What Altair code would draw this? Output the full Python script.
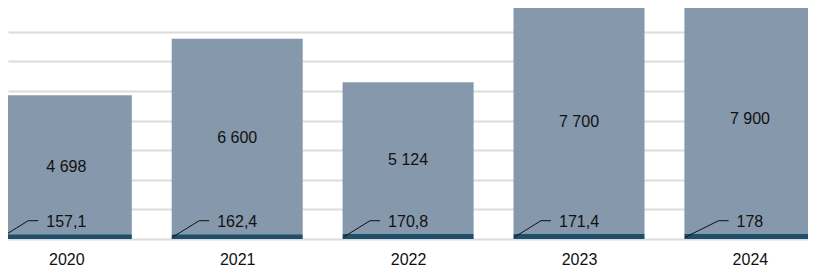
import altair as alt
import pandas as pd

# ---- data ----
years = [2020, 2021, 2022, 2023, 2024]
small_values = [157.1, 162.4, 170.8, 171.4, 178.0]
large_values = [4698, 6600, 5124, 7700, 7900]

# ---- layout constants (pixels) ----
W, H = 800, 231           # plot area (svg starts at page offset 8)
STEP = 170.9              # px between bar centers
HALF = 65.5 / STEP        # half bar width in year units
FIRST_CENTER = 58.3       # px of the 2020 bar centre inside the plot
PX_PER_UNIT = 29.625 / 1000
FS = 16


def fmt_small(v):
    return str(int(v)) if float(v).is_integer() else f"{v:.1f}".replace(".", ",")


def fmt_large(v):
    return f"{v:,}".replace(",", " ")


def text_w(s):
    return sum(0.278 if c in ", " else 0.556 for c in s) * FS


rows = []
for yr, s, l in zip(years, small_values, large_values):
    ls = fmt_small(s)
    w = text_w(ls)
    hend = -w / 2 - 8
    hstart = hend - 10
    rows.append(dict(
        year=yr, small=s, large=l, total=s + l, mid=s + l / 2,
        small_label=ls, large_label=fmt_large(l),
        left=yr - HALF, right=yr + HALF,
        lead0=yr - HALF + 0.6 / STEP, lead1=yr + hstart / STEP, lead2=yr + hend / STEP,
    ))
df = pd.DataFrame(rows)

xdom = [2020 - FIRST_CENTER / STEP, 2020 + (W - FIRST_CENTER) / STEP]
ydom = [0, H / PX_PER_UNIT]
xs = alt.Scale(domain=xdom, nice=False, zero=False)
ys = alt.Scale(domain=ydom, nice=False, zero=False)

x_axis = alt.Axis(values=years, format="d", title=None, domain=False, ticks=False,
                  tickSize=0, labelPadding=25, labelBaseline="alphabetic",
                  labelFontSize=FS, labelColor="#111111", labelFlush=False,
                  grid=False, labelOverlap=False)
y_axis = alt.Axis(values=list(range(0, 9000, 1000)), grid=True, labels=False,
                  ticks=False, domain=False, title=None,
                  gridColor="#DCDCDC", gridWidth=2)

base = alt.Chart(df)

big = base.mark_bar(color="#8698AC").encode(
    x=alt.X("left:Q", scale=xs, axis=x_axis),
    x2="right:Q",
    y=alt.Y("total:Q", scale=ys, axis=y_axis),
    y2="small:Q",
)
dark = base.mark_bar(color="#1F4E6B").encode(
    x=alt.X("left:Q", scale=xs, axis=x_axis),
    x2="right:Q",
    y=alt.Y("small:Q", scale=ys, axis=y_axis),
    y2=alt.datum(0),
)
diag = base.mark_rule(color="#111111", strokeWidth=1, yOffset=-1.7, y2Offset=-18.3).encode(
    x=alt.X("lead0:Q", scale=xs, axis=x_axis),
    x2="lead1:Q",
    y=alt.YDatum(0, axis=y_axis),
    y2=alt.datum(0),
)
horiz = base.mark_rule(color="#111111", strokeWidth=1, yOffset=-18.3).encode(
    x=alt.X("lead1:Q", scale=xs, axis=x_axis),
    x2="lead2:Q",
    y=alt.YDatum(0, axis=y_axis),
)
small_text = base.mark_text(baseline="alphabetic", dy=-11.7, fontSize=FS, color="#111111").encode(
    x=alt.X("year:Q", scale=xs, axis=x_axis),
    y=alt.YDatum(0, axis=y_axis),
    text="small_label:N",
)
big_text = base.mark_text(baseline="middle", dy=2, fontSize=FS, color="#111111").encode(
    x=alt.X("year:Q", scale=xs, axis=x_axis),
    y=alt.Y("mid:Q", scale=ys, axis=y_axis),
    text="large_label:N",
)

chart = alt.layer(big, dark, diag, horiz, small_text, big_text).properties(
    width=W, height=H, autosize="none",
    padding={"left": 0, "top": 0, "right": 0, "bottom": 27},
).configure(font="Liberation Sans").configure_view(stroke=None)

chart.save("out.html", embed_options={"renderer": "svg", "actions": False})
